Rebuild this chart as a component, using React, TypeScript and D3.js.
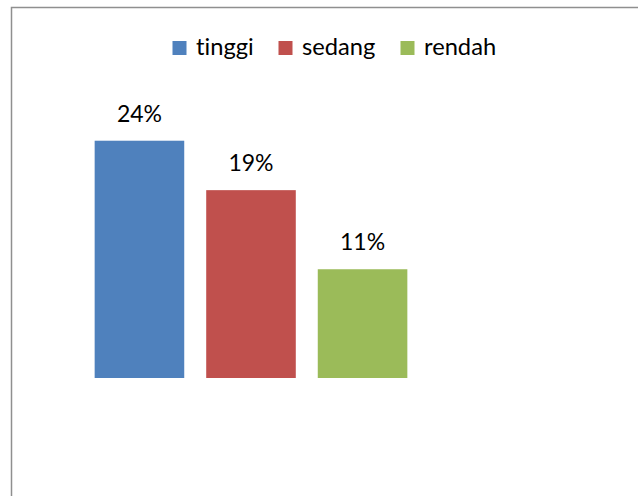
import React from "react";
import * as d3 from "d3";

const categories = ["tinggi", "sedang", "rendah"];
const values = [0.24, 0.19, 0.11];
const colors = ["#4F81BD", "#C0504D", "#9BBB59"];

const W = 638;
const H = 496;
const FONT = "Lato, 'Open Sans', sans-serif";

export default function App() {
  const x = d3.scaleBand<string>().domain(categories).range([83.5, 418.5]).paddingInner(0.197).paddingOuter(0.1);
  const y = d3.scaleLinear().domain([0, 0.3]).range([378, 81.4]);
  const fmt = d3.format(".0%");

  const legendX = [172.5, 278.5, 400.5];

  return (
    <div style={{ position: "absolute", left: 0, top: 0, width: W, height: H }}>
      <svg width={W} height={H} style={{ display: "block", fontVariantLigatures: "none" }}>
        <rect x={0} y={0} width={W} height={H} fill="#fff" />
        <rect x={11.5} y={7.5} width={W + 20} height={H + 20} fill="none" stroke="#8f8f8f" strokeWidth={1.5} />
        {categories.map((c, i) => (
          <g key={c}>
            <rect x={legendX[i]} y={41} width={14} height={14} fill={colors[i]} />
            <text x={legendX[i] + 23.5} y={54.5} fontFamily={FONT} fontSize={23.7} fill="#000">
              {c}
            </text>
          </g>
        ))}
        {categories.map((c, i) => (
          <g key={c + "bar"}>
            <rect x={x(c)} y={y(values[i])} width={x.bandwidth()} height={y(0) - y(values[i])} fill={colors[i]} />
            <text
              x={(x(c) as number) + x.bandwidth() / 2}
              y={y(values[i]) - 19}
              textAnchor="middle"
              fontFamily={FONT}
              fontSize={23}
              fill="#000"
            >
              {fmt(values[i])}
            </text>
          </g>
        ))}
      </svg>
    </div>
  );
}
